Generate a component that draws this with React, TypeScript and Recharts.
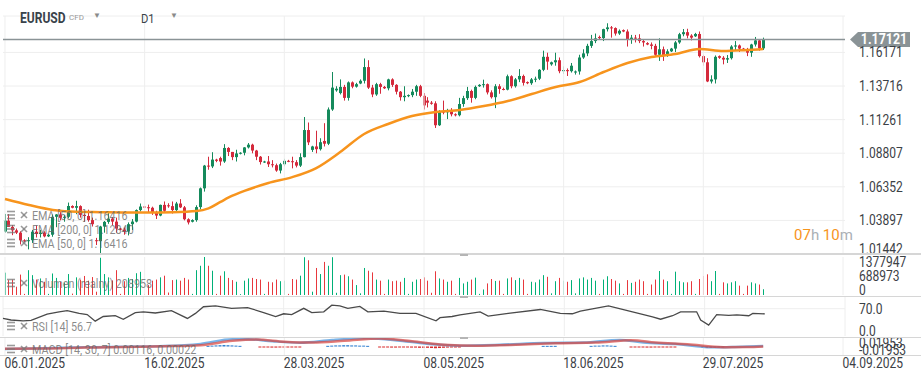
import React from 'react';
import { ComposedChart, Bar, Line, XAxis, YAxis, CartesianGrid, ReferenceLine } from 'recharts';

// daily EURUSD candles (Sun-Fri sessions), [open, high, low, close]
const candles: [number, number, number, number][] = [
  [1.0308, 1.0437, 1.0300, 1.0388], [1.0388, 1.0436, 1.0345, 1.0342], [1.0342, 1.0356, 1.0282, 1.0317],
  [1.0317, 1.0330, 1.0290, 1.0300], [1.0300, 1.0310, 1.0214, 1.0244], [1.0244, 1.0252, 1.0232, 1.0240],
  [1.0240, 1.0267, 1.0178, 1.0245], [1.0245, 1.0320, 1.0225, 1.0307], [1.0307, 1.0353, 1.0265, 1.0290],
  [1.0290, 1.0320, 1.0265, 1.0300], [1.0300, 1.0310, 1.0266, 1.0273], [1.0273, 1.0292, 1.0268, 1.0285],
  [1.0285, 1.0433, 1.0270, 1.0416], [1.0416, 1.0436, 1.0340, 1.0433], [1.0433, 1.0450, 1.0390, 1.0409],
  [1.0409, 1.0428, 1.0380, 1.0416], [1.0416, 1.0520, 1.0405, 1.0495], [1.0495, 1.0500, 1.0478, 1.0482],
  [1.0482, 1.0533, 1.0435, 1.0494], [1.0494, 1.0500, 1.0410, 1.0430], [1.0430, 1.0440, 1.0380, 1.0422],
  [1.0422, 1.0468, 1.0380, 1.0392], [1.0392, 1.0410, 1.0345, 1.0362], [1.0245, 1.0262, 1.0210, 1.0238],
  [1.0238, 1.0350, 1.0141, 1.0345], [1.0345, 1.0385, 1.0300, 1.0379], [1.0379, 1.0443, 1.0365, 1.0403],
  [1.0403, 1.0415, 1.0355, 1.0381], [1.0381, 1.0410, 1.0300, 1.0330], [1.0330, 1.0335, 1.0318, 1.0322],
  [1.0322, 1.0338, 1.0285, 1.0308], [1.0308, 1.0375, 1.0280, 1.0362], [1.0362, 1.0400, 1.0320, 1.0381],
  [1.0381, 1.0470, 1.0375, 1.0465], [1.0465, 1.0513, 1.0455, 1.0491], [1.0491, 1.0495, 1.0480, 1.0486],
  [1.0486, 1.0505, 1.0450, 1.0482], [1.0482, 1.0490, 1.0430, 1.0445], [1.0445, 1.0460, 1.0400, 1.0425],
  [1.0425, 1.0505, 1.0420, 1.0503], [1.0503, 1.0528, 1.0450, 1.0460], [1.0500, 1.0515, 1.0482, 1.0494],
  [1.0494, 1.0528, 1.0440, 1.0465], [1.0465, 1.0525, 1.0445, 1.0513], [1.0513, 1.0545, 1.0480, 1.0485],
  [1.0485, 1.0495, 1.0390, 1.0398], [1.0398, 1.0405, 1.0360, 1.0375], [1.0380, 1.0398, 1.0375, 1.0392],
  [1.0392, 1.0500, 1.0380, 1.0487], [1.0487, 1.0630, 1.0470, 1.0624], [1.0624, 1.0795, 1.0600, 1.0790],
  [1.0790, 1.0855, 1.0760, 1.0784], [1.0784, 1.0888, 1.0772, 1.0834], [1.0834, 1.0840, 1.0815, 1.0825],
  [1.0845, 1.0855, 1.0790, 1.0820], [1.0820, 1.0947, 1.0810, 1.0919], [1.0919, 1.0925, 1.0860, 1.0890],
  [1.0890, 1.0890, 1.0830, 1.0852], [1.0852, 1.0906, 1.0820, 1.0879], [1.0879, 1.0888, 1.0872, 1.0884],
  [1.0884, 1.0925, 1.0865, 1.0923], [1.0923, 1.0955, 1.0915, 1.0943], [1.0943, 1.0950, 1.0880, 1.0900],
  [1.0900, 1.0905, 1.0830, 1.0855], [1.0855, 1.0860, 1.0798, 1.0816], [1.0816, 1.0825, 1.0810, 1.0820],
  [1.0820, 1.0860, 1.0780, 1.0800], [1.0800, 1.0830, 1.0777, 1.0793], [1.0793, 1.0805, 1.0745, 1.0754],
  [1.0754, 1.0810, 1.0733, 1.0800], [1.0800, 1.0840, 1.0785, 1.0825], [1.0825, 1.0832, 1.0815, 1.0822],
  [1.0822, 1.0855, 1.0770, 1.0815], [1.0815, 1.0830, 1.0777, 1.0790], [1.0790, 1.0880, 1.0780, 1.0852],
  [1.0852, 1.1145, 1.0850, 1.1050], [1.1050, 1.1105, 1.0940, 1.0960], [1.0905, 1.0935, 1.0890, 1.0930],
  [1.0930, 1.1045, 1.0880, 1.0910], [1.0910, 1.0990, 1.0900, 1.0961], [1.0970, 1.1100, 1.0930, 1.0950],
  [1.0950, 1.1215, 1.0940, 1.1200], [1.1200, 1.1474, 1.1190, 1.1360], [1.1340, 1.1370, 1.1330, 1.1352],
  [1.1320, 1.1420, 1.1310, 1.1365], [1.1365, 1.1380, 1.1265, 1.1285], [1.1285, 1.1405, 1.1265, 1.1398],
  [1.1398, 1.1405, 1.1355, 1.1367], [1.1367, 1.1395, 1.1360, 1.1385], [1.1390, 1.1420, 1.1385, 1.1410],
  [1.1410, 1.1573, 1.1390, 1.1510], [1.1510, 1.1560, 1.1350, 1.1360], [1.1360, 1.1380, 1.1290, 1.1310],
  [1.1310, 1.1395, 1.1300, 1.1385], [1.1385, 1.1395, 1.1315, 1.1365], [1.1365, 1.1372, 1.1350, 1.1355],
  [1.1355, 1.1425, 1.1340, 1.1420], [1.1420, 1.1428, 1.1365, 1.1380], [1.1380, 1.1385, 1.1310, 1.1330],
  [1.1330, 1.1335, 1.1265, 1.1290], [1.1290, 1.1370, 1.1260, 1.1300], [1.1300, 1.1310, 1.1290, 1.1305],
  [1.1305, 1.1350, 1.1290, 1.1330], [1.1330, 1.1380, 1.1300, 1.1370], [1.1370, 1.1380, 1.1290, 1.1300],
  [1.1300, 1.1320, 1.1200, 1.1230], [1.1265, 1.1290, 1.1215, 1.1250], [1.1250, 1.1262, 1.1235, 1.1242],
  [1.1245, 1.1260, 1.1065, 1.1085], [1.1085, 1.1195, 1.1080, 1.1185], [1.1185, 1.1265, 1.1165, 1.1180],
  [1.1180, 1.1205, 1.1130, 1.1187], [1.1187, 1.1210, 1.1150, 1.1165], [1.1165, 1.1172, 1.1150, 1.1158],
  [1.1158, 1.1285, 1.1150, 1.1240], [1.1240, 1.1300, 1.1220, 1.1283], [1.1283, 1.1365, 1.1270, 1.1335],
  [1.1335, 1.1345, 1.1250, 1.1285], [1.1285, 1.1375, 1.1275, 1.1365], [1.1370, 1.1385, 1.1365, 1.1380],
  [1.1380, 1.1418, 1.1360, 1.1385], [1.1385, 1.1390, 1.1310, 1.1325], [1.1325, 1.1340, 1.1280, 1.1290],
  [1.1290, 1.1385, 1.1210, 1.1370], [1.1370, 1.1385, 1.1315, 1.1350], [1.1350, 1.1360, 1.1340, 1.1345],
  [1.1345, 1.1455, 1.1340, 1.1443], [1.1443, 1.1450, 1.1355, 1.1370], [1.1370, 1.1430, 1.1360, 1.1420],
  [1.1420, 1.1495, 1.1400, 1.1445], [1.1445, 1.1455, 1.1375, 1.1395], [1.1400, 1.1405, 1.1385, 1.1392],
  [1.1392, 1.1430, 1.1380, 1.1420], [1.1420, 1.1440, 1.1400, 1.1425], [1.1425, 1.1495, 1.1415, 1.1490],
  [1.1490, 1.1630, 1.1480, 1.1585], [1.1585, 1.1615, 1.1490, 1.1550], [1.1530, 1.1550, 1.1520, 1.1545],
  [1.1545, 1.1615, 1.1520, 1.1560], [1.1560, 1.1580, 1.1465, 1.1480], [1.1480, 1.1515, 1.1460, 1.1488],
  [1.1488, 1.1500, 1.1445, 1.1480], [1.1480, 1.1540, 1.1470, 1.1520], [1.1470, 1.1485, 1.1455, 1.1478],
  [1.1478, 1.1600, 1.1455, 1.1580], [1.1580, 1.1640, 1.1570, 1.1610], [1.1610, 1.1680, 1.1590, 1.1665],
  [1.1665, 1.1745, 1.1650, 1.1700], [1.1700, 1.1755, 1.1685, 1.1720], [1.1730, 1.1740, 1.1715, 1.1722],
  [1.1722, 1.1790, 1.1700, 1.1787], [1.1787, 1.1830, 1.1770, 1.1800], [1.1800, 1.1810, 1.1725, 1.1795],
  [1.1795, 1.1800, 1.1740, 1.1755], [1.1755, 1.1785, 1.1745, 1.1775], [1.1780, 1.1785, 1.1765, 1.1770],
  [1.1770, 1.1785, 1.1660, 1.1710], [1.1710, 1.1745, 1.1680, 1.1725], [1.1725, 1.1745, 1.1690, 1.1720],
  [1.1720, 1.1750, 1.1685, 1.1700], [1.1700, 1.1710, 1.1660, 1.1690], [1.1685, 1.1692, 1.1670, 1.1675],
  [1.1675, 1.1690, 1.1640, 1.1665], [1.1665, 1.1680, 1.1585, 1.1600], [1.1600, 1.1720, 1.1555, 1.1640],
  [1.1640, 1.1660, 1.1555, 1.1595], [1.1595, 1.1640, 1.1585, 1.1625], [1.1625, 1.1650, 1.1620, 1.1645],
  [1.1645, 1.1700, 1.1620, 1.1690], [1.1690, 1.1760, 1.1680, 1.1750], [1.1750, 1.1788, 1.1735, 1.1765],
  [1.1765, 1.1790, 1.1720, 1.1740], [1.1740, 1.1750, 1.1705, 1.1725], [1.1735, 1.1760, 1.1730, 1.1752],
  [1.1752, 1.1770, 1.1580, 1.1590], [1.1590, 1.1600, 1.1520, 1.1545], [1.1545, 1.1575, 1.1400, 1.1405],
  [1.1405, 1.1450, 1.1390, 1.1420], [1.1420, 1.1595, 1.1390, 1.1585], [1.1590, 1.1595, 1.1570, 1.1578],
  [1.1578, 1.1590, 1.1530, 1.1565], [1.1565, 1.1598, 1.1540, 1.1575], [1.1575, 1.1670, 1.1565, 1.1660],
  [1.1660, 1.1700, 1.1630, 1.1668], [1.1668, 1.1675, 1.1620, 1.1645], [1.1645, 1.1650, 1.1628, 1.1635],
  [1.1635, 1.1650, 1.1590, 1.1615], [1.1615, 1.1680, 1.1585, 1.1675], [1.1675, 1.1730, 1.1660, 1.1705],
  [1.1705, 1.1715, 1.1630, 1.1647], [1.1647, 1.1725, 1.1635, 1.17121],
];

// volume in thousands
const volumesK = [
  810, 540, 560, 300, 740, 40, 900, 720, 560, 600, 480, 40,
  780, 620, 480, 450, 760, 50, 640, 560, 690, 520, 650, 120,
  1350, 760, 640, 530, 900, 40, 500, 620, 580, 790, 840, 40,
  360, 520, 560, 640, 700, 90, 540, 560, 520, 620, 560, 40,
  900, 1060, 1380, 1060, 880, 40, 700, 860, 620, 540, 480, 30,
  520, 600, 620, 580, 560, 40, 480, 460, 560, 500, 520, 40,
  580, 560, 700, 1370, 1260, 120, 980, 760, 1200, 1060, 1370, 80,
  720, 740, 680, 560, 360, 60, 980, 880, 820, 560, 520, 40,
  560, 500, 520, 480, 620, 40, 480, 560, 580, 640, 520, 80,
  860, 600, 560, 480, 520, 40, 620, 420, 480, 560, 630, 40,
  200, 420, 580, 510, 520, 40, 600, 640, 540, 620, 560, 40,
  480, 460, 560, 720, 660, 60, 500, 620, 520, 480, 540, 60,
  600, 640, 560, 620, 520, 40, 560, 680, 580, 520, 420, 40,
  540, 440, 480, 560, 500, 40, 380, 560, 870, 560, 500, 40,
  846, 500, 460, 460, 500, 40, 580, 690, 750, 500, 870, 40,
  460, 420, 460, 500, 340, 40, 340, 460, 420, 380, 209,
];

const emaPoints: [number, number][] = [
  [0, 1.0546], [6, 1.0502], [12, 1.0466], [18, 1.0452], [24, 1.0450], [30, 1.0448], [36, 1.0448],
  [42, 1.0450], [48, 1.0458], [51, 1.0478], [54, 1.0525], [57, 1.0570], [60, 1.0605], [66, 1.0663],
  [72, 1.0706], [78, 1.0772], [84, 1.0889], [90, 1.1021], [96, 1.1094], [102, 1.1152], [108, 1.1182],
  [114, 1.1196], [120, 1.1225], [126, 1.1262], [132, 1.1313], [138, 1.1364], [144, 1.1401],
  [150, 1.1474], [156, 1.1540], [162, 1.1584], [168, 1.1605], [174, 1.1642], [180, 1.1627],
  [186, 1.1635], [190, 1.16416],
];

const rsiPoints: [number, number][] = [
  [0, 45], [2, 41], [5, 39], [7, 40], [11, 56], [14, 62], [16, 65], [19, 58], [21, 55], [23, 38],
  [25, 50], [28, 52], [30, 43], [33, 60], [35, 62], [38, 59], [42, 65], [46, 45], [48, 58], [50, 75],
  [53, 77], [57, 71], [61, 73], [65, 60], [68, 50], [70, 57], [72, 55], [75, 71], [77, 60], [80, 62],
  [82, 79], [84, 77], [86, 71], [89, 76], [91, 62], [95, 64], [99, 58], [103, 58], [108, 39],
  [109, 47], [112, 50], [114, 54], [119, 62], [121, 51], [126, 58], [134, 68], [139, 58], [142, 57],
  [144, 64], [151, 77], [155, 67], [157, 62], [162, 49], [164, 43], [167, 52], [169, 62], [173, 62],
  [174, 41], [176, 28], [178, 55], [181, 53], [183, 54], [186, 52], [187, 58], [190, 56.7],
];

const macdPoints: [number, number][] = [
  [0, -0.0057], [10, -0.004], [20, -0.002], [30, -0.0005], [40, 0.001], [49, 0.006], [57, 0.0165],
  [61, 0.0165], [67, 0.012], [74, 0.0087], [82, 0.0149], [91, 0.0188], [99, 0.0133], [107, 0.0051],
  [114, 0.002], [124, 0.004], [135, 0.008], [145, 0.009], [154, 0.015], [160, 0.009], [168, 0.0057],
  [177, -0.002], [183, -0.001], [190, 0.00116],
];

const signalPoints: [number, number][] = [
  [0, -0.005], [10, -0.0045], [20, -0.0025], [30, -0.001], [40, 0.0005], [49, 0.003], [57, 0.013],
  [63, 0.016], [70, 0.011], [77, 0.009], [85, 0.013], [94, 0.0185], [102, 0.012], [110, 0.004],
  [118, 0.002], [128, 0.004], [138, 0.0075], [148, 0.009], [157, 0.0145], [163, 0.009], [171, 0.005],
  [180, -0.0015], [186, -0.0012], [190, 0.00022],
];

const macdHist = [
  0, 0, 0, 0, 0, 0, 0, 0, 0, 0, 0, 0,
  0, 0, 0, 0, 0, 0, 0, 0, 0, 0, 0, 0,
  0, 0, 0, 0, 0, 0, 0, 0, 0, 0, 0, 0,
  0, 0, 0, 0, 0, 0, 0, 0, 0, 0, 0, 0,
  0, 0, 0, 0.0015, 0.002, 0.0025, 0.003, 0.0035, 0.003, 0.0025, 0.002, 0.0015,
  0, 0, 0, 0, -0.0015, -0.002, -0.002, -0.0025, -0.0025, -0.002, -0.002, -0.002,
  -0.002, -0.0015, -0.0015, 0, 0, 0, 0, 0, 0, 0.0015, 0.002, 0.0025,
  0.0025, 0.003, 0.003, 0.0025, 0.0025, 0.002, 0.002, 0.0015, 0, 0, -0.0015, -0.002,
  -0.002, -0.0025, -0.0025, -0.002, -0.002, -0.002, -0.0025, -0.0025, -0.003, -0.003, -0.003, -0.0035,
  -0.004, -0.0035, -0.003, -0.0025, -0.002, -0.002, -0.0015, 0, 0, 0, 0, 0,
  0, 0, 0, 0, 0, 0, 0, 0, 0, 0, 0, 0,
  0, 0, 0, 0.0015, 0.0015, 0.0015, 0.0015, 0, 0, 0, 0, 0,
  0, 0, 0, 0.0015, 0.002, 0.002, 0.0025, 0.0025, 0.002, 0.0015, 0, 0,
  0, -0.0015, -0.002, -0.002, -0.002, -0.0025, -0.0025, -0.002, -0.002, -0.002, -0.0015, -0.0015,
  -0.0015, 0, 0, 0, 0, 0, 0, -0.002, -0.003, -0.003, -0.0025, -0.002,
  -0.0015, 0, 0, 0, 0, 0, 0, 0, 0, 0, 0,
];

const dateTickIdx = [0, 35, 70, 105, 140, 175, 210];
const dateTickLabels = ['06.01.2025', '16.02.2025', '28.03.2025', '08.05.2025', '18.06.2025', '29.07.2025', '04.09.2025'];
const priceTicks = [1.01442, 1.03897, 1.06352, 1.08807, 1.11261, 1.13716, 1.16171];
const volumeTicksK = [0, 688.973, 1377.947];
const rsiTicks = [0, 70];
const macdTicks = [-0.01953, 0.01953];
const LAST_PRICE = 1.17121;
const SLOTS = 211;

const UP = '#158a5c';
const DOWN = '#d42a3c';
const VOL_UP = '#00b077';
const VOL_DOWN = '#e8383d';
const GRID = '#eeeeee';
const TEXT = '#3c4146';
const FONT = 'Roboto, sans-serif';
const NARROW = 0.86; // the platform font is narrower than Roboto

const rows = Array.from({ length: SLOTS }, (_, i) => {
  const c = candles[i];
  const row: any = { i };
  if (c) {
    row.o = c[0]; row.h = c[1]; row.l = c[2]; row.c = c[3];
    row.hl = [c[2], c[1]];
    row.up = c[3] >= c[0];
    row.vol = volumesK[i];
    row.hist = macdHist[i];
  }
  return row;
});
emaPoints.forEach(([i, v]) => { rows[i].ema = v; });
rsiPoints.forEach(([i, v]) => { rows[i].rsi = v; });
macdPoints.forEach(([i, v]) => { rows[i].macd = v; });
signalPoints.forEach(([i, v]) => { rows[i].signal = v; });

const Candle = (props: any) => {
  const { x, y, width, height, payload } = props;
  if (!payload || payload.o == null) return null;
  const top = Math.min(y, y + height);
  const h = Math.abs(height);
  const range = payload.h - payload.l;
  const k = range > 0 ? h / range : 0;
  const bodyTop = top + (payload.h - Math.max(payload.o, payload.c)) * k;
  const bodyH = Math.max(1, Math.abs(payload.o - payload.c) * k);
  const color = payload.up ? UP : DOWN;
  const cx = Math.round(x + width / 2) + 0.5;
  return (
    <g>
      <line x1={cx} x2={cx} y1={top} y2={top + h} stroke={color} strokeWidth={1} />
      <rect x={cx - 1.5} y={bodyTop} width={3} height={bodyH} fill={color} />
    </g>
  );
};

const VolBar = (props: any) => {
  const { x, y, width, height, payload } = props;
  if (!payload || payload.vol == null) return null;
  return <rect x={Math.round(x + width / 2)} y={y} width={1} height={Math.max(0, height)} fill={payload.up ? VOL_UP : VOL_DOWN} />;
};

const HistBar = (props: any) => {
  const { x, y, width, height, payload } = props;
  if (!payload || !payload.hist) return null;
  const top = Math.min(y, y + height);
  return <rect x={x} y={top} width={width} height={Math.max(1, Math.abs(height))} fill={payload.hist > 0 ? '#2f7fd0' : '#d92b2b'} />;
};

const NarrowText = ({ x, y, children, size = 14, fill = TEXT, weight = 'normal', anchor = 'start' }: any) => (
  <text transform={`translate(${x} ${y}) scale(${NARROW} 1)`} dy="0.35em" textAnchor={anchor} fontSize={size}
    fontWeight={weight} fill={fill} fontFamily={FONT}>
    {children}
  </text>
);

const AxisTick = (props: any) => {
  const { x, y, payload, fmt, lo, hi } = props;
  let dy = 0;
  if (lo !== undefined && payload.value === lo) dy = -4.5;
  if (hi !== undefined && payload.value === hi) dy = 5;
  return <NarrowText x={x} y={y + dy}>{fmt(payload.value)}</NarrowText>;
};

const DateTick = (props: any) => {
  const { x, y, payload } = props;
  const k = dateTickIdx.indexOf(payload.value);
  return <NarrowText x={x - 0.5} y={y}>{dateTickLabels[k]}</NarrowText>;
};

const PriceTag = (props: any) => {
  const vb = props.viewBox;
  if (!vb) return null;
  const x = vb.x + vb.width + 5;
  const y = vb.y;
  return (
    <g>
      <polygon points={`${x},${y} ${x + 8},${y - 7.5} ${x + 60},${y - 7.5} ${x + 60},${y + 7.5} ${x + 8},${y + 7.5}`} fill="#8a9396" />
      <NarrowText x={x + 34} y={y} size={14.5} weight="bold" fill="#fff" anchor="middle">{LAST_PRICE.toFixed(5)}</NarrowText>
    </g>
  );
};

const W = 921;
const AXIS_W = 76;
const M_LEFT = 3;

const vGrid = (stroke = GRID) => dateTickIdx.map((i) => <ReferenceLine key={'v' + i} x={i} stroke={stroke} />);

const Legend = ({ top, text }: { top: number; text: string }) => (
  <div style={{ position: 'absolute', left: 0, top: top - 8, height: 16, display: 'flex', alignItems: 'center', color: 'rgba(100,100,100,0.75)', fontSize: 12.5, whiteSpace: 'nowrap' }}>
    <svg width={30} height={16} style={{ flex: 'none' }}>
      <g stroke="rgba(120,120,120,0.75)" strokeWidth={1.6}>
        <line x1={7} x2={15} y1={4.5} y2={4.5} />
        <line x1={7} x2={15} y1={8} y2={8} />
        <line x1={7} x2={15} y1={11.5} y2={11.5} />
        <line x1={21} x2={27} y1={5} y2={11} />
        <line x1={27} x2={21} y1={5} y2={11} />
      </g>
    </svg>
    <span style={{ marginLeft: 2, display: 'inline-block', transform: `scaleX(${NARROW})`, transformOrigin: 'left center' }}>{text}</span>
  </div>
);

const Sep = ({ top, h = 1 }: { top: number; h?: number }) => (
  <div style={{ position: 'absolute', left: 0, top, width: W, height: h, background: '#d6d6d6' }} />
);

const Handle = ({ top }: { top: number }) => (
  <div style={{ position: 'absolute', left: 460, top: top - 1, width: 8, height: 2, background: '#b5b5b5' }} />
);

export default function App() {
  return (
    <div style={{ position: 'absolute', left: 0, top: 0, width: W, height: 380, background: '#fff', fontFamily: FONT, overflow: 'hidden' }}>
      <style>{'.recharts-surface{overflow:visible}'}</style>
      {/* price panel */}
      <div style={{ position: 'absolute', left: 0, top: 0 }}>
        <ComposedChart width={W} height={256} data={rows} margin={{ top: 16, right: 0, bottom: 2, left: M_LEFT }}>
          <XAxis dataKey="i" type="category" hide />
          <YAxis orientation="right" width={AXIS_W} domain={[1.01442, 1.18832]} ticks={priceTicks} allowDataOverflow interval={0}
            axisLine={false} tickLine={false} tickMargin={8}
            tick={(p: any) => <AxisTick {...p} fmt={(v: number) => v.toFixed(5)} lo={priceTicks[0]} />} />
          <CartesianGrid vertical={false} stroke={GRID} />
          {vGrid()}
          <ReferenceLine y={LAST_PRICE} stroke="#8a9396" strokeWidth={1.5} label={<PriceTag />} />
          <Bar dataKey="hl" shape={<Candle />} barSize={3} isAnimationActive={false} />
          <Line dataKey="ema" type="monotone" stroke="#f7941d" strokeWidth={2.5} dot={false} connectNulls isAnimationActive={false} />
        </ComposedChart>
      </div>

      {/* volume panel */}
      <div style={{ position: 'absolute', left: 0, top: 254 }}>
        <ComposedChart width={W} height={42} data={rows} margin={{ top: 3, right: 0, bottom: 1, left: M_LEFT }}>
          <XAxis dataKey="i" type="category" hide />
          <YAxis orientation="right" width={AXIS_W} domain={[0, 1377.947]} ticks={volumeTicksK} allowDataOverflow interval={0}
            axisLine={false} tickLine={false} tickMargin={8}
            tick={(p: any) => <AxisTick {...p} fmt={(v: number) => String(Math.round(v * 1000))} lo={0} hi={1377.947} />} />
          {vGrid()}
          <Bar dataKey="vol" shape={<VolBar />} barSize={3} isAnimationActive={false} />
        </ComposedChart>
      </div>

      {/* RSI panel */}
      <div style={{ position: 'absolute', left: 0, top: 297 }}>
        <ComposedChart width={W} height={40} data={rows} margin={{ top: 0, right: 0, bottom: 1, left: M_LEFT }}>
          <XAxis dataKey="i" type="category" hide />
          <YAxis orientation="right" width={AXIS_W} domain={[0, 100]} ticks={rsiTicks} interval={0}
            axisLine={false} tickLine={false} tickMargin={8}
            tick={(p: any) => <AxisTick {...p} fmt={(v: number) => v.toFixed(1)} lo={0} />} />
          <ReferenceLine y={70} stroke={GRID} />
          {vGrid()}
          <Line dataKey="rsi" type="linear" stroke="#4a4a4a" strokeWidth={1.3} dot={false} connectNulls isAnimationActive={false} />
        </ComposedChart>
      </div>

      {/* MACD panel + date axis */}
      <div style={{ position: 'absolute', left: 0, top: 338 }}>
        <ComposedChart width={W} height={42} data={rows} margin={{ top: 0, right: 0, bottom: 0, left: M_LEFT }}>
          <XAxis dataKey="i" type="category" ticks={dateTickIdx} interval={0} axisLine={false} tickLine={false} height={25} tick={<DateTick />} />
          <YAxis orientation="right" width={AXIS_W} domain={[-0.01953, 0.01953]} ticks={macdTicks} allowDataOverflow interval={0}
            axisLine={false} tickLine={false} tickMargin={8}
            tick={(p: any) => <AxisTick {...p} fmt={(v: number) => v.toFixed(5)} lo={-0.01953} hi={0.01953} />} />
          {vGrid()}
          <Bar dataKey="hist" shape={<HistBar />} barSize={3} isAnimationActive={false} />
          <Line dataKey="macd" type="monotone" stroke="#4c9be0" strokeOpacity={0.75} strokeWidth={2.5} dot={false} connectNulls isAnimationActive={false} />
          <Line dataKey="signal" type="monotone" stroke="#d9413b" strokeOpacity={0.7} strokeWidth={2.5} dot={false} connectNulls isAnimationActive={false} />
        </ComposedChart>
      </div>

      <Sep top={253} h={2} />
      <Sep top={296} />
      <Sep top={337} />
      <Sep top={355} />
      <Handle top={255} />
      <Handle top={297} />
      <Handle top={338} />

      {/* header */}
      <div style={{ position: 'absolute', left: 20, top: 10, fontSize: 14, fontWeight: 700, color: '#39424a', transform: `scaleX(${NARROW})`, transformOrigin: 'left center' }}>EURUSD</div>
      <div style={{ position: 'absolute', left: 69, top: 13, fontSize: 8, color: '#9a9a9a' }}>CFD</div>
      <div style={{ position: 'absolute', left: 93, top: 11, fontSize: 8, color: '#8a8a8a' }}>▼</div>
      <div style={{ position: 'absolute', left: 141, top: 11, fontSize: 13, color: '#39424a', transform: `scaleX(${NARROW})`, transformOrigin: 'left center' }}>D1</div>
      <div style={{ position: 'absolute', left: 170, top: 11, fontSize: 8, color: '#8a8a8a' }}>▼</div>

      {/* countdown */}
      <div style={{ position: 'absolute', left: 794, top: 226, fontSize: 15, whiteSpace: 'nowrap' }}>
        <span style={{ color: '#f7941d' }}>07</span>
        <span style={{ color: '#aab0b5' }}>h </span>
        <span style={{ color: '#f7941d' }}>10</span>
        <span style={{ color: '#aab0b5' }}>m</span>
      </div>

      <Legend top={215} text="EMA [50, 0] 1.16416" />
      <Legend top={229} text="EMA [200, 0] 1.12840" />
      <Legend top={243} text="EMA [50, 0] 1.16416" />
      <Legend top={283} text="Volumen (realny) 208958" />
      <Legend top={326} text="RSI [14] 56.7" />
      <Legend top={349} text="MACD [14, 30, 7] 0.00116, 0.00022" />
    </div>
  );
}
